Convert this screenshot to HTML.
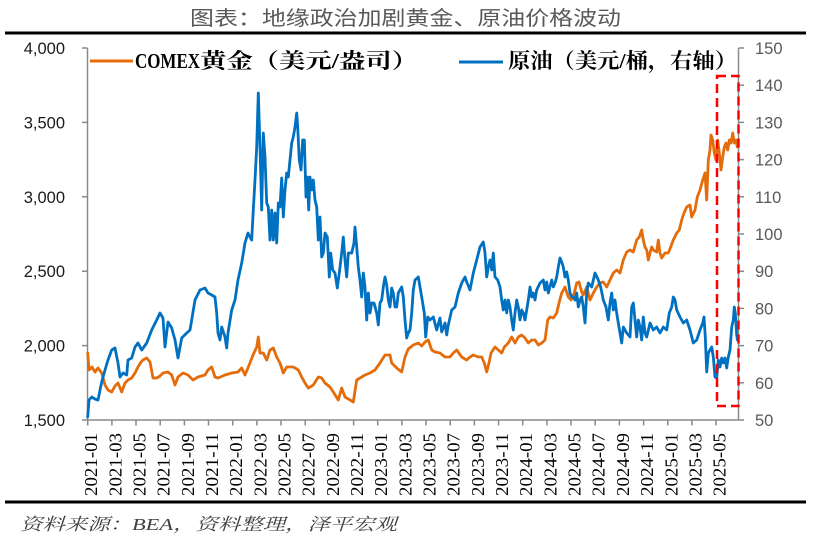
<!DOCTYPE html>
<html>
<head>
<meta charset="utf-8">
<style>
html,body{margin:0;padding:0;background:#fff;}
svg{display:block;}
</style>
</head>
<body>
<svg width="820" height="539" viewBox="0 0 820 539" xmlns="http://www.w3.org/2000/svg">
<rect width="820" height="539" fill="#fff"/>
<!-- Title -->
<text x="190" y="25" font-size="20" textLength="431" lengthAdjust="spacingAndGlyphs" fill="#595959" font-family="'Liberation Sans','Noto Sans CJK SC',sans-serif">图表：地缘政治加剧黄金、原油价格波动</text>
<line x1="5" y1="33" x2="806" y2="33" stroke="#000" stroke-width="3"/>
<line x1="5" y1="502" x2="806" y2="502" stroke="#000" stroke-width="3"/>
<!-- Footer -->
<text x="20" y="530" font-size="17" font-style="italic" textLength="377" lengthAdjust="spacingAndGlyphs" fill="#404040" font-family="'Liberation Serif','Noto Serif CJK SC',serif">资料来源：BEA，资料整理，泽平宏观</text>

<!-- Axes -->
<g stroke="#898989" stroke-width="1.5" fill="none">
<line x1="87.5" y1="48" x2="87.5" y2="420"/>
<line x1="738.5" y1="48" x2="738.5" y2="420"/>
<line x1="87.5" y1="420" x2="738.5" y2="420"/>
<!-- left ticks -->
<line x1="82" y1="48" x2="87.5" y2="48"/>
<line x1="82" y1="122.4" x2="87.5" y2="122.4"/>
<line x1="82" y1="196.8" x2="87.5" y2="196.8"/>
<line x1="82" y1="271.2" x2="87.5" y2="271.2"/>
<line x1="82" y1="345.6" x2="87.5" y2="345.6"/>
<line x1="82" y1="420" x2="87.5" y2="420"/>
<!-- right ticks -->
<line x1="738.5" y1="48" x2="744" y2="48"/>
<line x1="738.5" y1="85.2" x2="744" y2="85.2"/>
<line x1="738.5" y1="122.4" x2="744" y2="122.4"/>
<line x1="738.5" y1="159.6" x2="744" y2="159.6"/>
<line x1="738.5" y1="196.8" x2="744" y2="196.8"/>
<line x1="738.5" y1="234" x2="744" y2="234"/>
<line x1="738.5" y1="271.2" x2="744" y2="271.2"/>
<line x1="738.5" y1="308.4" x2="744" y2="308.4"/>
<line x1="738.5" y1="345.6" x2="744" y2="345.6"/>
<line x1="738.5" y1="382.8" x2="744" y2="382.8"/>
<line x1="738.5" y1="420" x2="744" y2="420"/>
<!-- x ticks -->
<line x1="87.7" y1="420" x2="87.7" y2="425.5"/>
<line x1="111.9" y1="420" x2="111.9" y2="425.5"/>
<line x1="136" y1="420" x2="136" y2="425.5"/>
<line x1="160.2" y1="420" x2="160.2" y2="425.5"/>
<line x1="184.4" y1="420" x2="184.4" y2="425.5"/>
<line x1="208.5" y1="420" x2="208.5" y2="425.5"/>
<line x1="232.7" y1="420" x2="232.7" y2="425.5"/>
<line x1="256.9" y1="420" x2="256.9" y2="425.5"/>
<line x1="281" y1="420" x2="281" y2="425.5"/>
<line x1="305.2" y1="420" x2="305.2" y2="425.5"/>
<line x1="329.4" y1="420" x2="329.4" y2="425.5"/>
<line x1="353.6" y1="420" x2="353.6" y2="425.5"/>
<line x1="377.7" y1="420" x2="377.7" y2="425.5"/>
<line x1="401.9" y1="420" x2="401.9" y2="425.5"/>
<line x1="426" y1="420" x2="426" y2="425.5"/>
<line x1="450.2" y1="420" x2="450.2" y2="425.5"/>
<line x1="474.4" y1="420" x2="474.4" y2="425.5"/>
<line x1="498.6" y1="420" x2="498.6" y2="425.5"/>
<line x1="522.7" y1="420" x2="522.7" y2="425.5"/>
<line x1="546.9" y1="420" x2="546.9" y2="425.5"/>
<line x1="571" y1="420" x2="571" y2="425.5"/>
<line x1="595.2" y1="420" x2="595.2" y2="425.5"/>
<line x1="619.4" y1="420" x2="619.4" y2="425.5"/>
<line x1="643.6" y1="420" x2="643.6" y2="425.5"/>
<line x1="667.8" y1="420" x2="667.8" y2="425.5"/>
<line x1="691.9" y1="420" x2="691.9" y2="425.5"/>
<line x1="716" y1="420" x2="716" y2="425.5"/>
</g>

<!-- Left labels -->
<g font-family="'Liberation Sans',sans-serif" font-size="16.5" fill="#1a1a1a" text-anchor="end">
<text x="65" y="54">4,000</text>
<text x="65" y="128.4">3,500</text>
<text x="65" y="202.8">3,000</text>
<text x="65" y="277.2">2,500</text>
<text x="65" y="351.6">2,000</text>
<text x="65" y="426">1,500</text>
</g>
<!-- Right labels -->
<g font-family="'Liberation Sans',sans-serif" font-size="16.5" fill="#595959">
<text x="755" y="54">150</text>
<text x="755" y="91.2">140</text>
<text x="755" y="128.4">130</text>
<text x="755" y="165.6">120</text>
<text x="755" y="202.8">110</text>
<text x="755" y="240">100</text>
<text x="755" y="277.2">90</text>
<text x="755" y="314.4">80</text>
<text x="755" y="351.6">70</text>
<text x="755" y="388.8">60</text>
<text x="755" y="426">50</text>
</g>
<!-- X labels -->
<g font-family="'Liberation Serif',serif" font-size="18" fill="#000" text-anchor="end">
<text transform="translate(97.2,433) rotate(-90)" textLength="63" lengthAdjust="spacingAndGlyphs">2021-01</text>
<text transform="translate(121.4,433) rotate(-90)" textLength="63" lengthAdjust="spacingAndGlyphs">2021-03</text>
<text transform="translate(145.5,433) rotate(-90)" textLength="63" lengthAdjust="spacingAndGlyphs">2021-05</text>
<text transform="translate(169.7,433) rotate(-90)" textLength="63" lengthAdjust="spacingAndGlyphs">2021-07</text>
<text transform="translate(193.9,433) rotate(-90)" textLength="63" lengthAdjust="spacingAndGlyphs">2021-09</text>
<text transform="translate(218,433) rotate(-90)" textLength="63" lengthAdjust="spacingAndGlyphs">2021-11</text>
<text transform="translate(242.2,433) rotate(-90)" textLength="63" lengthAdjust="spacingAndGlyphs">2022-01</text>
<text transform="translate(266.4,433) rotate(-90)" textLength="63" lengthAdjust="spacingAndGlyphs">2022-03</text>
<text transform="translate(290.5,433) rotate(-90)" textLength="63" lengthAdjust="spacingAndGlyphs">2022-05</text>
<text transform="translate(314.7,433) rotate(-90)" textLength="63" lengthAdjust="spacingAndGlyphs">2022-07</text>
<text transform="translate(338.9,433) rotate(-90)" textLength="63" lengthAdjust="spacingAndGlyphs">2022-09</text>
<text transform="translate(363.1,433) rotate(-90)" textLength="63" lengthAdjust="spacingAndGlyphs">2022-11</text>
<text transform="translate(387.2,433) rotate(-90)" textLength="63" lengthAdjust="spacingAndGlyphs">2023-01</text>
<text transform="translate(411.4,433) rotate(-90)" textLength="63" lengthAdjust="spacingAndGlyphs">2023-03</text>
<text transform="translate(435.5,433) rotate(-90)" textLength="63" lengthAdjust="spacingAndGlyphs">2023-05</text>
<text transform="translate(459.7,433) rotate(-90)" textLength="63" lengthAdjust="spacingAndGlyphs">2023-07</text>
<text transform="translate(483.9,433) rotate(-90)" textLength="63" lengthAdjust="spacingAndGlyphs">2023-09</text>
<text transform="translate(508.1,433) rotate(-90)" textLength="63" lengthAdjust="spacingAndGlyphs">2023-11</text>
<text transform="translate(532.2,433) rotate(-90)" textLength="63" lengthAdjust="spacingAndGlyphs">2024-01</text>
<text transform="translate(556.4,433) rotate(-90)" textLength="63" lengthAdjust="spacingAndGlyphs">2024-03</text>
<text transform="translate(580.5,433) rotate(-90)" textLength="63" lengthAdjust="spacingAndGlyphs">2024-05</text>
<text transform="translate(604.7,433) rotate(-90)" textLength="63" lengthAdjust="spacingAndGlyphs">2024-07</text>
<text transform="translate(628.9,433) rotate(-90)" textLength="63" lengthAdjust="spacingAndGlyphs">2024-09</text>
<text transform="translate(653.1,433) rotate(-90)" textLength="63" lengthAdjust="spacingAndGlyphs">2024-11</text>
<text transform="translate(677.3,433) rotate(-90)" textLength="63" lengthAdjust="spacingAndGlyphs">2025-01</text>
<text transform="translate(701.4,433) rotate(-90)" textLength="63" lengthAdjust="spacingAndGlyphs">2025-03</text>
<text transform="translate(725.5,433) rotate(-90)" textLength="63" lengthAdjust="spacingAndGlyphs">2025-05</text>
</g>

<!-- Gold series -->
<polyline fill="none" stroke="#E46C0A" stroke-width="2.8" stroke-linejoin="round" stroke-linecap="round" points="87.7,353 89,370 92,367 95,372 98,368 101.7,373 105,385 108,390 111.7,392 115,386 118,383 121.7,392 125,383 128,380 131.7,378 135,373 138,367 141,362 143,360 146.7,358 150,362 153,378 156.7,378 160,376 163,373 168,372 171.7,375 175,385 178,377 183,373 188,375 193,380 198,377 205,375 208,370 211.7,367 215,377 218,378 225,375 231.7,373 238,372 241.7,368 245,375 250,363 253,355 256.7,347 258.3,337 260,353 263.3,353 266.7,360 270,350 273.3,348 276.7,357 280,363 283.3,373 286.7,367 293.3,367 298.3,370 301.7,377 305,383 308.3,388 313.3,385 318.3,377 321.7,378 325,383 330,387 333.3,392 338.3,400 341.7,388 345,397 350,400 353.3,402 356.7,380 360,378 365,375 370,373 375,370 380,363 385,355 390,355 391.7,363 396.7,368 401.7,372 405,357 408.3,349 413.3,345 418.3,343 421.7,346 425,342 428.3,340 431.7,350 435,352 440,353 445,357 450,357 453.3,353 456.7,350 461.7,357 466.7,360 470,357 473.3,355 478.3,357 481.7,357 484.3,363 486.7,372 489,363 491,353 495,347 498.3,350 501.7,353 504.3,347 508.3,343 511.7,337 515,343 518.3,337 521.7,335 525,338 528.3,343 531.7,340 535,340 538.3,345 541.7,343 545,340 547.7,320 550,317 553.3,318 556.7,313 559,303 561.7,293 565,287 568.3,297 571,300 574.3,293 576.7,283 579,282 581.7,292 583.3,295 586.7,287 590,300 593.3,293 596.7,287 600,283 603.3,282 606.7,287 610,280 613.3,273 616.7,270 620,273 623.3,260 626.7,252 630,250 633.3,252 636.7,240 639.3,237 641.7,230 643.3,240 645,247 646.7,250 648.3,260 650,253 651.7,247 653.3,250 656.7,252 658.3,240 660,253 661.7,258 665,253 668.3,253 670.7,247 673.3,240 676.7,233 679.3,230 681.7,220 684,213 686.7,207 690,205 691.7,217 695,210 697.3,197 700,190 702.7,180 705,173 706.7,200 708.3,160 710,150 711,135 712.7,140 714.3,153 716,160 717.7,140 719.3,153 721,170 722.7,157 724.3,147 726,143 727.7,150 729.3,140 731,143 732.7,133 734.3,143 736,140 737.3,147"/>

<!-- Oil series -->
<polyline fill="none" stroke="#0070C0" stroke-width="2.8" stroke-linejoin="round" stroke-linecap="round" points="87.7,417 89,400 91.7,397 95,399 98,400 101.7,382 105,370 108,360 111.7,350 115,348 118,363 120,377 123,373 126.7,375 128,360 131.7,358 135,347 138,343 141.7,350 146.7,343 151.7,330 156.7,320 160,313 163,318 165,347 168,322 171.7,328 175,340 178,358 181.7,338 186.7,333 190,330 191.7,320 195,300 200,290 205,288 208,293 211.7,295 215,297 216.7,313 218,333 220,340 221.7,327 225,337 226.7,348 228,333 231.7,310 235,300 238,280 241.7,263 245,243 248,233 250,237 251.7,240 253.3,210 255,180 256.7,147 258.3,93 260,147 261.7,210 263.3,133 265,157 266.7,203 268.3,207 270,240 271.7,210 273.3,240 275,213 276.7,243 278.3,203 280,207 281.7,178 283.3,217 285,190 286.7,173 288.3,177 290,160 291.7,143 293.3,137 295,127 296.7,113 297.7,127 299.3,160 301,170 302.7,140 304.3,140 306,197 307.3,177 308.7,210 310,177 311.7,190 313.3,180 315,200 316.7,207 318.3,240 320,217 321.7,257 323.3,253 325,233 327.3,237 329.3,277 330.7,253 332.7,270 335,273 337.3,288 339.3,273 341.7,253 343.3,237 345,260 346.7,277 348.3,253 351.7,253 354,243 355,227 356.7,247 358.3,267 360,280 361.7,297 363.3,273 365,287 366.7,320 368.3,293 370,313 371.7,303 374,303 376.7,313 378.3,325 380,303 381.7,300 383.3,287 385,277 386.7,285 388.3,300 390,307 391.7,288 393.3,293 395,307 396.7,307 398.3,293 401.7,287 403.3,297 405,320 406.7,338 408.3,333 410,330 411.7,313 413.3,290 415,280 418.3,277 421.7,297 424.3,313 425.7,337 427.7,317 430,320 433.3,317 436.7,330 440,318 441.7,332 445,323 446.7,335 448.3,325 451.7,310 455,307 458.3,293 461.7,283 465,277 466.7,282 470,290 473.3,273 476.7,260 480,247 483.3,242 485,253 486.7,277 488.3,267 490,260 491.7,270 493.3,253 495,277 497.7,280 500,287 501.7,300 503.3,310 505,300 506.7,313 508.3,300 510,307 511.7,320 513.3,330 515,313 516.7,300 518.3,307 520,320 521.7,310 523.3,313 525,320 526.7,310 528.3,300 530,287 531.7,297 533.3,293 535,300 536.7,290 540,283 543.3,280 545,290 546.7,282 548.3,293 551.7,280 553.3,287 555,283 556.7,277 558.3,267 560,258 561.7,262 563.3,267 565,277 566.7,272 568.3,280 570,293 571.7,297 573.3,297 575,300 576.7,293 578.3,307 580,300 581.7,297 583.3,307 585,323 586.7,293 588.3,283 591.7,287 595,273 598.3,280 600.7,287 603.3,300 606,307 608.3,320 610,303 611.7,293 613.3,310 615,300 616.7,313 618.3,323 620,333 621.7,343 623.3,327 626.7,333 630,337 631.7,307 633.3,303 635,320 636.7,337 638.3,320 640,327 641.7,340 643.3,317 645,333 646.7,337 650,323 653.3,330 656.7,327 660,333 663.3,327 666.7,330 669.3,313 671.7,307 673.3,297 675,300 676.7,310 680,317 683.3,323 686.7,320 690,330 693.3,343 696.7,340 700,330 702.7,323 704,317 705.3,337 706.7,372 708.3,353 710,350 711.7,347 713.3,357 715,377 716.7,378 718.3,360 720,367 721.7,358 723.3,363 725,358 726.7,368 728.3,357 730,350 731.7,327 733.3,320 734.3,307 735.3,313 736.7,335 737.5,340"/>

<!-- Red dashed box -->
<rect x="717" y="76" width="21.5" height="330" fill="none" stroke="#FF0000" stroke-width="2.5" stroke-dasharray="9,5"/>

<!-- Legend -->
<line x1="90" y1="61" x2="133" y2="61" stroke="#E46C0A" stroke-width="3"/>
<text x="135" y="68" font-size="21" font-weight="bold" textLength="65" lengthAdjust="spacingAndGlyphs" fill="#000" font-family="'Liberation Serif',serif">COMEX</text>
<text x="200" y="68" font-size="21" font-weight="bold" textLength="218" lengthAdjust="spacingAndGlyphs" fill="#000" font-family="'Liberation Serif','Noto Serif CJK SC',serif">黄金（美元/盎司）</text>
<line x1="459" y1="62" x2="503" y2="62" stroke="#0070C0" stroke-width="3"/>
<text x="508" y="68" font-size="21" font-weight="bold" textLength="229" lengthAdjust="spacingAndGlyphs" fill="#000" font-family="'Liberation Serif','Noto Serif CJK SC',serif">原油（美元/桶，右轴）</text>
</svg>
</body>
</html>
